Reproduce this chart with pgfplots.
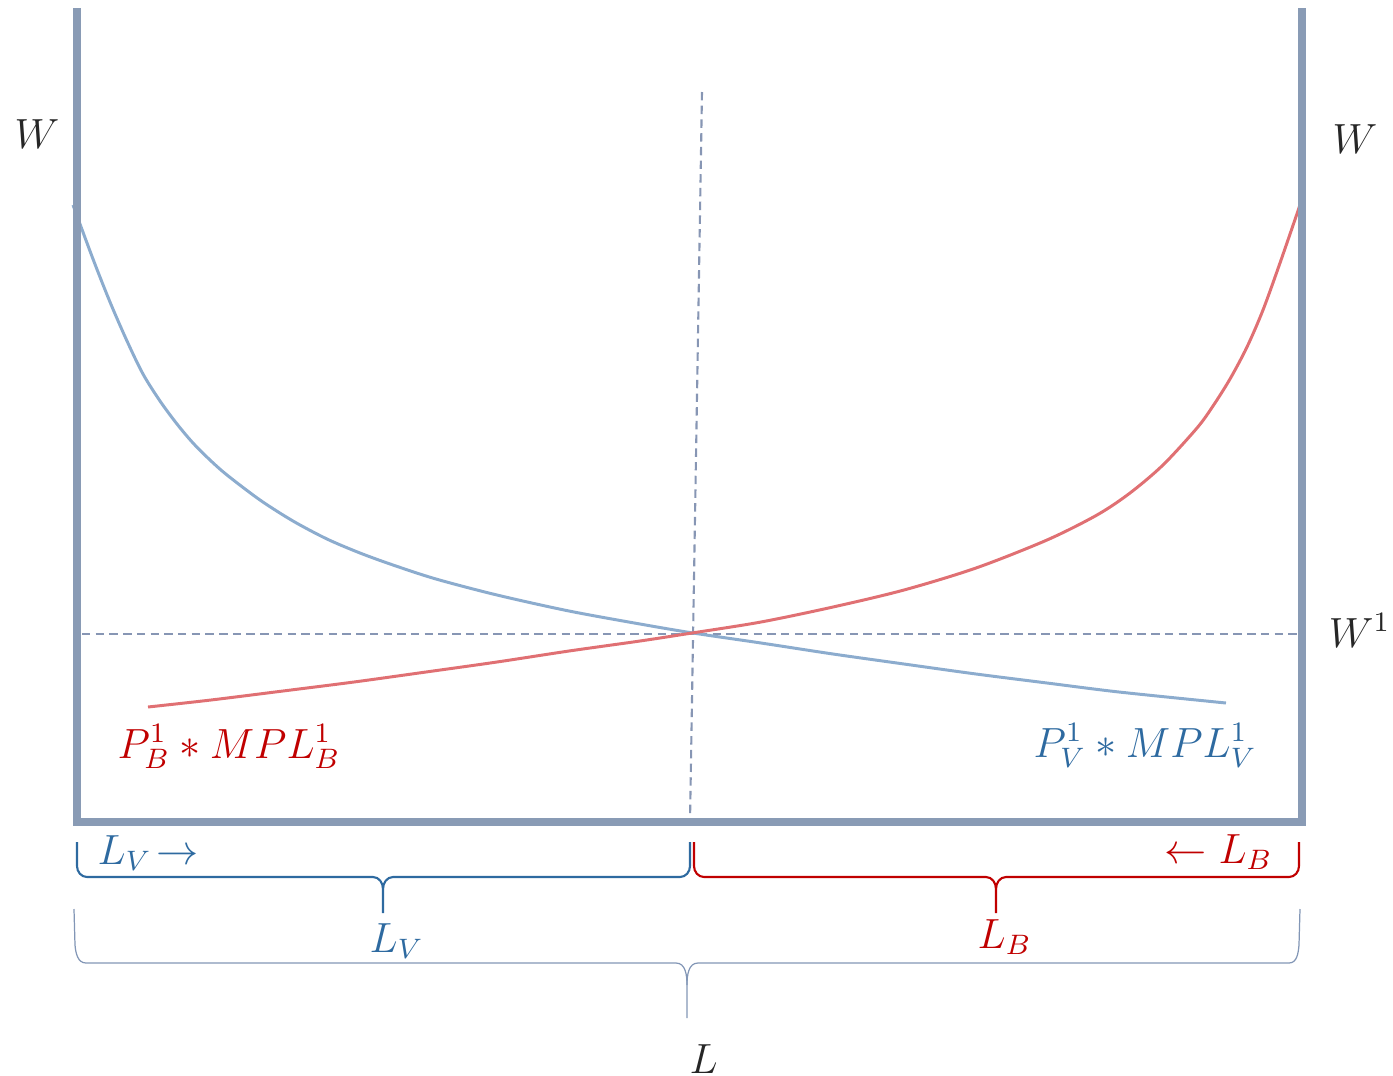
\documentclass[border=0pt]{standalone}
\usepackage{pgfplots}
\pgfplotsset{compat=1.18}
\usepackage{xcolor}

\definecolor{framec}{RGB}{137,155,181}
\definecolor{curveblue}{RGB}{140,172,206}
\definecolor{curvered}{RGB}{224,112,115}
\definecolor{txtblue}{RGB}{46,106,160}
\definecolor{txtred}{RGB}{192,0,0}
\definecolor{dashc}{RGB}{135,150,180}
\definecolor{txtdark}{RGB}{38,38,38}
\definecolor{bracegray}{RGB}{130,150,182}

\tikzset{lbl/.style={font=\fontsize{12}{15}\selectfont, inner sep=0pt}}

\begin{document}
\begin{tikzpicture}
\begin{axis}[
    scale only axis,
    width=13.93cm, height=10.76cm,
    xmin=0, xmax=1393, ymin=0, ymax=1076,
    y dir=reverse,
    axis lines=none,
    clip=false,
]
% page extent
\addplot[draw=none] coordinates {(0,0) (1393,1076)};

% dashed guides
\addplot[dashc, line width=0.6pt, dash pattern=on 2.4pt off 1.5pt] coordinates {(82,634) (1297,634)};
\addplot[dashc, line width=0.6pt, dash pattern=on 2.4pt off 1.5pt] coordinates {(702,92) (690,822)};

% value of marginal product curves
\addplot[curveblue, line width=0.85pt, smooth] coordinates {
    (73,205) (93,259) (110,302) (127,341) (143,374) (160,401) (177,424)
    (193,443) (210,460) (227,475) (260,500) (293,521) (327,539) (360,553)
    (393,565) (436,579) (497,595) (569,611) (640,624) (693,633) (761,643)
    (833,654) (904,664) (976,674) (1047,683) (1119,692) (1226,703)
};
\addplot[curvered, line width=0.85pt, smooth] coordinates {
    (148,707) (211,700) (283,691) (354,682) (426,672) (497,662) (569,651)
    (640,641) (692,633) (761,622) (833,607) (904,590) (976,568) (1047,540)
    (1097,515) (1130,493) (1163,465) (1197,428) (1213,406) (1230,379)
    (1247,347) (1263,310) (1280,263) (1300,205)
};

% frame
\addplot[framec, line width=2pt, line join=miter] coordinates {(77,8) (77,822) (1302,822) (1302,8)};

% braces
\draw[txtblue, line width=0.6pt]
    (axis cs:77,842) -- (axis cs:77,866) to[out=-90,in=180] (axis cs:87,877)
    -- (axis cs:373,877) to[out=0,in=90] (axis cs:383,889) -- (axis cs:383,913);
\draw[txtblue, line width=0.6pt]
    (axis cs:383,889) to[out=90,in=180] (axis cs:393,877)
    -- (axis cs:680,877) to[out=0,in=-90] (axis cs:690,866) -- (axis cs:690,842);
\draw[txtred, line width=0.6pt]
    (axis cs:694,842) -- (axis cs:694,866) to[out=-90,in=180] (axis cs:704,877)
    -- (axis cs:986,877) to[out=0,in=90] (axis cs:996,889) -- (axis cs:996,913);
\draw[txtred, line width=0.6pt]
    (axis cs:996,889) to[out=90,in=180] (axis cs:1006,877)
    -- (axis cs:1289,877) to[out=0,in=-90] (axis cs:1299,866) -- (axis cs:1299,842);
\draw[bracegray, line width=0.35pt]
    (axis cs:74,909) -- (axis cs:75,945) to[out=-85,in=180] (axis cs:86,963)
    -- (axis cs:676,963) to[out=0,in=90] (axis cs:687,985) -- (axis cs:687,1018);
\draw[bracegray, line width=0.35pt]
    (axis cs:687,985) to[out=90,in=180] (axis cs:698,963)
    -- (axis cs:1289,963) to[out=0,in=-95] (axis cs:1299,945) -- (axis cs:1300,909);

% labels
\node[lbl, txtdark, anchor=base west] at (axis cs:14,148) {$W$};
\node[lbl, txtdark, anchor=base west] at (axis cs:1332,153) {$W$};
\node[lbl, txtdark, anchor=base east] at (axis cs:1391,647) {$W^1$};
\node[lbl, txtred, anchor=base west] at (axis cs:117,758) {$P_B^1 \ast MPL_B^1$};
\node[lbl, txtblue, anchor=base west] at (axis cs:1033,757) {$P_V^1 \ast MPL_V^1$};
\node[lbl, txtblue, anchor=base west] at (axis cs:97,864) {$L_V\!\rightarrow$};
\node[lbl, txtred, anchor=base east] at (axis cs:1273,863) {$\leftarrow L_B$};
\node[lbl, txtblue, anchor=base west] at (axis cs:369,952) {$L_V$};
\node[lbl, txtred, anchor=base west] at (axis cs:977,948) {$L_B$};
\node[lbl, txtdark, anchor=base west] at (axis cs:689,1073) {$L$};
\end{axis}
\pgfresetboundingbox
\useasboundingbox (current axis.south west) rectangle (current axis.north east);
\end{tikzpicture}
\end{document}
